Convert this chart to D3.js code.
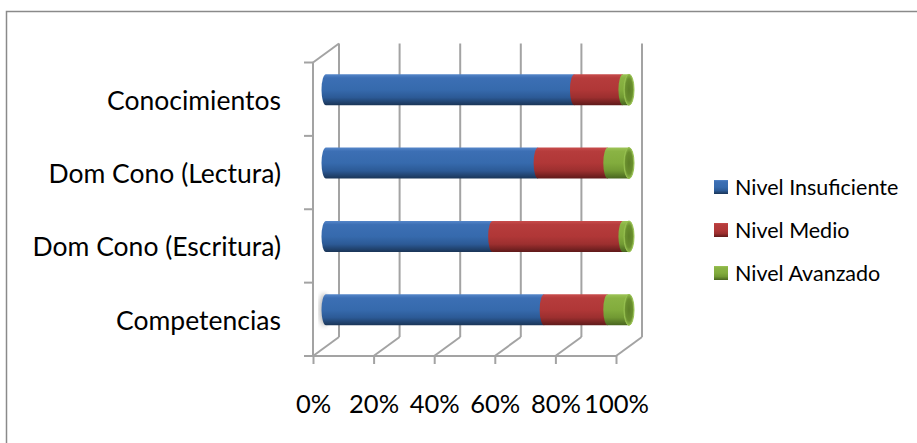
<!DOCTYPE html>
<html>
<head>
<meta charset="utf-8">
<script src="https://cdn.jsdelivr.net/npm/d3@7"></script>
<style>
  html, body { margin: 0; padding: 0; background: #fff; }
  svg { display: block; font-family: Lato, Carlito, Calibri, sans-serif; }
</style>
</head>
<body>
<svg id="chart" width="917" height="443"></svg>
<script>
// Categories (top to bottom) and the share of each level
const categories = ["Conocimientos", "Dom Cono (Lectura)", "Dom Cono (Escritura)", "Competencias"];
const seriesNames = ["Nivel Insuficiente", "Nivel Medio", "Nivel Avanzado"];
const insuficiente = [82, 70, 55, 72];
const medio = [16, 23, 43, 21];
const avanzado = [2, 7, 2, 7];
const tickValues = [0, 0.2, 0.4, 0.6, 0.8, 1];
const tickLabels = ["0%", "20%", "40%", "60%", "80%", "100%"];

const rows = categories.map((c, i) => ({
  cat: c,
  "Nivel Insuficiente": insuficiente[i],
  "Nivel Medio": medio[i],
  "Nivel Avanzado": avanzado[i]
}));
const stacked = d3.stack().keys(seriesNames).offset(d3.stackOffsetExpand)(rows);

const svg = d3.select("#chart");
const defs = svg.append("defs");

// Outer chart frame
svg.append("rect")
  .attr("x", 6.5).attr("y", 11.5).attr("width", 1000).attr("height", 1000)
  .attr("fill", "#fff").attr("stroke", "#8a8a8a").attr("stroke-width", 1.5);

// 3D box: front plane scales plus depth offset to the back wall
const depth = { dx: 26, dy: -19 };
const xFront = d3.scaleLinear().domain([0, 1]).range([313, 616]);
const yFront = d3.scaleBand().domain(categories).range([62.5, 356]).paddingInner(0).paddingOuter(0);
const xBack = v => xFront(v) + depth.dx;
const floorY = yFront.range()[1];
const topY = yFront.range()[0];
const xMid = v => xFront(v) + depth.dx / 2;
const yMid = c => yFront(c) + yFront.bandwidth() / 2 + depth.dy / 2;

const gridColor = "#a3a3a3";
const grid = svg.append("g").attr("stroke", gridColor).attr("stroke-width", 2).attr("fill", "none");

// Back-wall gridlines and floor lines
tickValues.forEach(v => {
  grid.append("line")
    .attr("x1", xBack(v)).attr("x2", xBack(v))
    .attr("y1", topY + depth.dy).attr("y2", floorY + depth.dy);
  grid.append("line")
    .attr("x1", xFront(v)).attr("y1", floorY)
    .attr("x2", xBack(v)).attr("y2", floorY + depth.dy);
});
// Left wall front edge and top edge
grid.append("line").attr("x1", xFront(0)).attr("x2", xFront(0)).attr("y1", topY).attr("y2", floorY);
grid.append("line").attr("x1", xFront(0)).attr("y1", topY).attr("x2", xBack(0)).attr("y2", topY + depth.dy);
// Front floor line
grid.append("line").attr("x1", xFront(0) - 9).attr("x2", xFront(1)).attr("y1", floorY).attr("y2", floorY);
// Category tick marks on the left wall
const boundaries = categories.map(c => yFront(c)).concat([floorY]);
boundaries.forEach(y => {
  grid.append("line").attr("x1", xFront(0) - 9).attr("x2", xFront(0)).attr("y1", y).attr("y2", y);
});

// Gradients for the cylinders
const palette = {
  "Nivel Insuficiente": ["#5586c9", "#3c6fb4", "#366aad", "#2c5a96", "#1a3557"],
  "Nivel Medio": ["#c84c4c", "#b63c3c", "#b03737", "#9c2f2f", "#5f1a1a"],
  "Nivel Avanzado": ["#9dc457", "#8ab344", "#82ac3d", "#719933", "#48641f"]
};
const gid = {};
seriesNames.forEach((s, i) => {
  gid[s] = "grad" + i;
  const g = defs.append("linearGradient").attr("id", gid[s])
    .attr("x1", 0).attr("y1", 0).attr("x2", 0).attr("y2", 1);
  const c = palette[s];
  [[0, c[0]], [0.12, c[1]], [0.5, c[2]], [0.75, c[3]], [1, c[4]]]
    .forEach(([o, col]) => g.append("stop").attr("offset", o).attr("stop-color", col));
});
const capGrad = defs.append("radialGradient").attr("id", "capGrad");
capGrad.append("stop").attr("offset", 0).attr("stop-color", "#5d7f27");
capGrad.append("stop").attr("offset", 0.7).attr("stop-color", "#6a8f2e");
capGrad.append("stop").attr("offset", 1).attr("stop-color", "#8fb84c");
defs.append("filter").attr("id", "soft").append("feGaussianBlur").attr("stdDeviation", 2.5);

// Cylinders
const r = 15.5, rx = 4.5;
const bars = svg.append("g");
// faint shadow at the left end of the last bar
bars.append("ellipse")
  .attr("cx", xMid(0) - 2).attr("cy", yMid(categories[3]))
  .attr("rx", 5).attr("ry", r + 1)
  .attr("fill", "#8a8a8a").attr("opacity", 0.55).attr("filter", "url(#soft)");

categories.forEach((c, i) => {
  const cy = yMid(c);
  stacked.forEach(layer => {
    const d = layer[i];
    const x0 = xMid(d[0]), x1 = xMid(d[1]);
    if (x1 - x0 <= 0) return;
    const p = d3.path();
    p.moveTo(x0, cy - r);
    p.lineTo(x1, cy - r);
    p.lineTo(x1, cy + r);
    p.lineTo(x0, cy + r);
    bars.append("path")
      .attr("d", p.toString() + ` A ${rx} ${r} 0 0 1 ${x0} ${cy - r} Z`)
      .attr("fill", `url(#${gid[layer.key]})`);
  });
  // right end cap
  bars.append("ellipse")
    .attr("cx", xMid(1)).attr("cy", cy).attr("rx", rx + 0.5).attr("ry", r)
    .attr("fill", "url(#capGrad)").attr("stroke", "#97c150").attr("stroke-width", 1);
});

// Category labels
const yAxis = d3.axisLeft(d3.scaleBand().domain(categories).range([62.5 + 2, 356 + 2])).tickSize(0).tickPadding(0);
const ya = svg.append("g").attr("transform", `translate(${281},0)`).call(yAxis);
ya.select(".domain").remove();
ya.selectAll("text").attr("font-size", 26.5).attr("fill", "#000").attr("font-family", "Lato, Carlito, Calibri, sans-serif");

// Value axis
const xAxis = d3.axisBottom(xFront).tickValues(tickValues)
  .tickFormat((d, i) => tickLabels[i]).tickSizeInner(8).tickSizeOuter(0).tickPadding(31);
const xa = svg.append("g").attr("transform", `translate(0,${floorY})`).call(xAxis);
xa.select(".domain").remove();
xa.selectAll(".tick line").attr("stroke", gridColor).attr("stroke-width", 2);
xa.selectAll("text").attr("font-size", 25.5).attr("fill", "#000").attr("font-family", "Lato, Carlito, Calibri, sans-serif");

// Legend
const legend = svg.append("g").attr("transform", "translate(714,187)");
seriesNames.forEach((s, i) => {
  const g = legend.append("g").attr("transform", `translate(0,${i * 43})`);
  g.append("rect").attr("x", 0).attr("y", -7).attr("width", 14).attr("height", 14)
    .attr("fill", `url(#${gid[s]})`);
  g.append("text").attr("x", 21).attr("y", 0).attr("dy", "0.35em")
    .attr("font-size", 21.5).attr("fill", "#000").text(s);
});
</script>
</body>
</html>
